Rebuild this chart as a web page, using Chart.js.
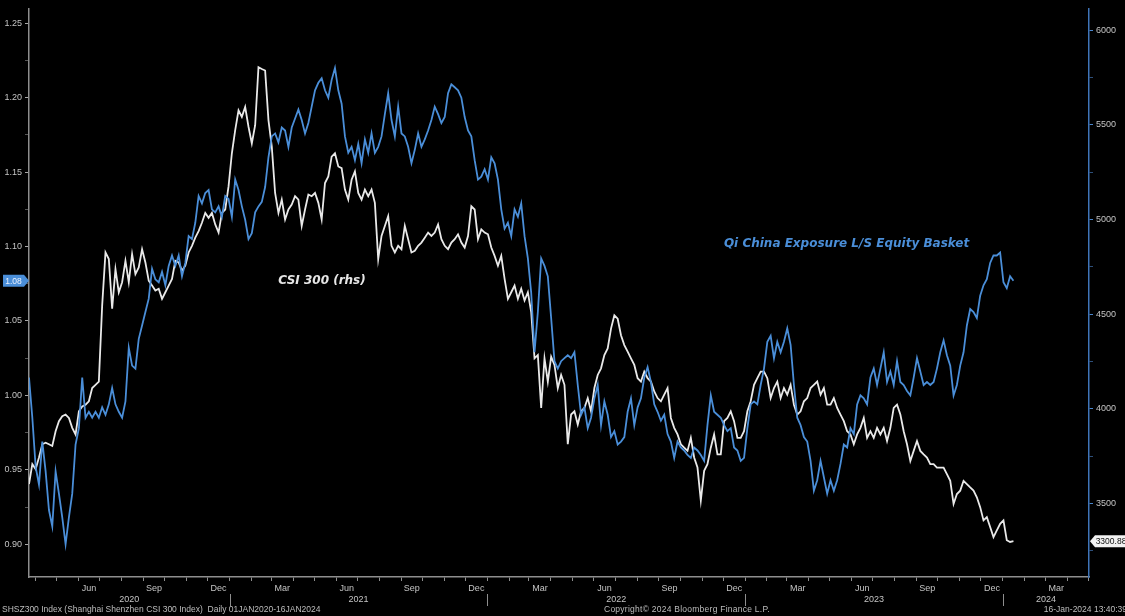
<!DOCTYPE html>
<html>
<head>
<meta charset="utf-8">
<script src="https://cdn.jsdelivr.net/npm/chart.js@4.4.1/dist/chart.umd.min.js"></script>
<style>
    html, body { margin: 0; padding: 0; background: #000; }
    #wrap { position: relative; width: 1125px; height: 616px; overflow: hidden; }
    #footer span { position: absolute; top: 604px; font: 8.5px "Liberation Sans", sans-serif; color: #bdbdbd; white-space: nowrap; }
</style>
</head>
<body>
<div id="wrap">
    <canvas id="chart" width="1125" height="616"></canvas>
    <div id="footer">
        <span style="left:2px">SHSZ300 Index (Shanghai Shenzhen CSI 300 Index)&nbsp;&nbsp;Daily 01JAN2020-16JAN2024</span>
        <span style="left:604px;letter-spacing:0.25px">Copyright© 2024 Bloomberg Finance L.P.</span>
        <span style="right:-2px">16-Jan-2024 13:40:39</span>
    </div>
</div>
<script>
// samples are evenly spaced between these two dates
const sampleStart = '2020-03-23';
const sampleEnd = '2024-01-16';
const axisStart = '2020-03-23';
const axisEnd = '2024-05-02';

// Qi China Exposure L/S Equity Basket (lhs)
const qiBasket = [
    1.012, 0.985, 0.952, 0.940, 0.969, 0.949, 0.923, 0.912, 0.949, 0.934,
    0.918, 0.900, 0.918, 0.934, 0.967, 0.978, 1.012, 0.985, 0.989, 0.985,
    0.989, 0.985, 0.992, 0.987, 0.994, 1.005, 0.994, 0.989, 0.985, 0.996,
    1.032, 1.020, 1.018, 1.038, 1.047, 1.056, 1.065, 1.085, 1.078, 1.076,
    1.083, 1.074, 1.087, 1.094, 1.087, 1.094, 1.080, 1.089, 1.107, 1.105,
    1.116, 1.134, 1.129, 1.136, 1.138, 1.125, 1.123, 1.127, 1.120,
    1.134, 1.132, 1.120, 1.145, 1.138, 1.127, 1.118, 1.105, 1.109, 1.123,
    1.127, 1.130, 1.140, 1.160, 1.174, 1.176, 1.170, 1.180, 1.178, 1.167,
    1.180, 1.186, 1.192, 1.185, 1.176, 1.183, 1.194, 1.205, 1.210, 1.213,
    1.205, 1.200, 1.212, 1.220, 1.205, 1.196, 1.174, 1.163, 1.167, 1.158,
    1.169, 1.156, 1.172, 1.163, 1.176, 1.163, 1.167, 1.174, 1.189, 1.203,
    1.185, 1.174, 1.194, 1.176, 1.174, 1.167, 1.156, 1.165, 1.176, 1.167,
    1.172, 1.178, 1.185, 1.194, 1.189, 1.183, 1.187, 1.203, 1.209, 1.207,
    1.205, 1.200, 1.187, 1.178, 1.174, 1.158, 1.145, 1.147, 1.152, 1.145,
    1.160, 1.156, 1.145, 1.125, 1.112, 1.116, 1.107, 1.125, 1.120, 1.129,
    1.107, 1.092, 1.069, 1.029, 1.056, 1.092, 1.087, 1.080, 1.052, 1.023,
    1.018, 1.023, 1.025, 1.027, 1.025, 1.029, 1.007, 0.987, 0.992, 0.978,
    0.985, 0.998, 1.007, 0.980, 0.996, 0.987, 0.972, 0.976, 0.967, 0.969,
    0.972, 0.989, 0.998, 0.980, 0.992, 0.998, 1.012, 1.019, 1.009, 0.994,
    0.989, 0.983, 0.987, 0.974, 0.969, 0.958, 0.969, 0.965, 0.963, 0.960,
    0.958, 0.965, 0.963, 0.960, 0.956, 0.980, 1.000, 0.989, 0.987, 0.985,
    0.980, 0.976, 0.978, 0.965, 0.963, 0.956, 0.958, 0.978, 0.994, 0.996,
    0.994, 1.007, 1.018, 1.036, 1.040, 1.025, 1.036, 1.029, 1.036, 1.045,
    1.034, 1.007, 0.985, 0.980, 0.972, 0.969, 0.956, 0.936, 0.943, 0.956,
    0.945, 0.934, 0.943, 0.936, 0.943, 0.954, 0.967, 0.965, 0.978, 0.974,
    0.994, 1.000, 0.998, 0.994, 1.012, 1.018, 1.007, 1.018, 1.029, 1.009,
    1.016, 1.007, 1.023, 1.009, 1.007, 1.003, 1.000, 1.012, 1.025, 1.016,
    1.007, 1.009, 1.007, 1.009, 1.018, 1.029, 1.037, 1.027, 1.020, 1.000,
    1.007, 1.020, 1.029, 1.047, 1.058, 1.056, 1.052, 1.067, 1.074, 1.078,
    1.089, 1.094, 1.094, 1.096, 1.076, 1.072, 1.080, 1.077
];

// CSI 300 (rhs)
const csi300 = [
    3603, 3708, 3682, 3743, 3813, 3821, 3813, 3804, 3882, 3935,
    3961, 3970, 3952, 3900, 3865, 3987, 4013, 4022, 4040, 4110,
    4127, 4144, 4546, 4826, 4791, 4529, 4738, 4616, 4669, 4782,
    4669, 4817, 4712, 4747, 4843, 4773, 4677, 4651, 4625, 4634,
    4581, 4616, 4651, 4686, 4782, 4773, 4730, 4756, 4826, 4861,
    4904, 4939, 4983, 5035, 5009, 5035, 4974, 4931, 5035,
    5053, 5175, 5350, 5472, 5577, 5542, 5594, 5490, 5402, 5498,
    5804, 5795, 5787, 5525, 5385, 5140, 5035, 5105, 5000, 5053,
    5079, 5123, 5105, 4966, 5053, 5132, 5123, 5140, 5088, 5000,
    5193, 5228, 5332, 5350, 5280, 5271, 5158, 5105, 5210, 5254,
    5140, 5105, 5158, 5123, 5158, 5088, 4791, 4913, 4966, 5018,
    4861, 4826, 4861, 4843, 4966, 4896, 4826, 4835, 4861, 4878,
    4904, 4931, 4913, 4931, 4974, 4896, 4861, 4843, 4878, 4896,
    4922, 4878, 4852, 4913, 5070, 5053, 4896, 4948, 4931, 4922,
    4852, 4808, 4756, 4808, 4686, 4581, 4616, 4651, 4581, 4634,
    4572, 4616, 4511, 4267, 4284, 4005, 4267, 4144, 4275, 4232,
    4110, 4179, 4127, 3813, 3970, 3987, 3917, 3987, 4005, 4057,
    3987, 4110, 4179, 4214, 4284, 4319, 4424, 4494, 4476, 4389,
    4337, 4302, 4267, 4232, 4162, 4144, 4197, 4162, 4144, 4092,
    4057, 4040, 4075, 4110, 3952, 3900, 3865, 3813, 3795, 3778,
    3847, 3743, 3690, 3516, 3673, 3708, 3795, 3865, 3760, 3760,
    3935, 3952, 3987, 3935, 3847, 3847, 3882, 3987, 4040, 4127,
    4162, 4197, 4197, 4162, 4057, 4110, 4144, 4057, 4110, 4075,
    4127, 4022, 3970, 3987, 4040, 4057, 4110, 4127, 4144, 4075,
    4110, 4022, 4022, 4057, 4005, 3970, 3935, 3882, 3865, 3813,
    3865, 3900, 3952, 3847, 3882, 3847, 3900, 3865, 3900, 3830,
    3900, 4005, 4022, 3970, 3882, 3813, 3725, 3778, 3830, 3778,
    3760, 3743, 3708, 3708, 3690, 3690, 3690, 3655, 3620, 3498,
    3550, 3568, 3620, 3603, 3585, 3568, 3533, 3481, 3411, 3428,
    3376, 3323, 3358, 3393, 3411, 3306, 3297, 3300.88
];

const leftTickLabels = ['0.90', '0.95', '1.00', '1.05', '1.10', '1.15', '1.20', '1.25'];
const rightTickLabels = ['3500', '4000', '4500', '5000', '5500', '6000'];
const quarterMonths = ['Jun', 'Sep', 'Dec', 'Mar', 'Jun', 'Sep', 'Dec', 'Mar', 'Jun', 'Sep', 'Dec', 'Mar', 'Jun', 'Sep', 'Dec', 'Mar'];
const yearLabels = ['2020', '2021', '2022', '2023', '2024'];

const BLUE = '#4a8ed8';
const WHITE = '#e9e9e9';
const GREY = '#8e8e8e';
const TEXT = '#c4c4c4';
const FONT = '"Liberation Sans", Arial, sans-serif';

const DAY = 864e5;
const base = Date.UTC(2020, 0, 1);
const dayOf = s => (Date.parse(s + 'T00:00:00Z') - base) / DAY;
const dayYM = (y, m, d) => (Date.UTC(y, m, d) - base) / DAY;

const xMin = dayOf(axisStart), xMax = dayOf(axisEnd);
const first = dayOf(sampleStart), last = dayOf(sampleEnd);
const step = (last - first) / (csi300.length - 1);
const xs = csi300.map((_, i) => first + i * step);

function buildXTicks() {
    const t = [];
    // month boundaries: tick marks only
    for (let y = 2020; y <= 2024; y++) {
        for (let m = 0; m < 12; m++) {
            const v = dayYM(y, m, 1);
            if (v >= xMin && v <= xMax) t.push({ value: v, mark: true, lines: ['', ''] });
        }
    }
    // quarter month names, centred in the month
    quarterMonths.forEach((lab, i) => {
        const mAbs = 5 + 3 * i;
        const y = 2020 + Math.floor(mAbs / 12), m = mAbs % 12;
        t.push({ value: (dayYM(y, m, 1) + dayYM(y, m + 1, 1)) / 2, lines: [lab, ''] });
    });
    // years, centred on the visible part of the year
    yearLabels.forEach(lab => {
        const y = Number(lab);
        const a = Math.max(dayYM(y, 0, 1), xMin), b = Math.min(dayYM(y + 1, 0, 1), xMax);
        t.push({ value: (a + b) / 2, lines: ['', lab] });
    });
    return t.sort((a, b) => a.value - b.value);
}

function buildYTicks(labels, lo, hi) {
    const vals = labels.map(Number);
    const half = (vals[1] - vals[0]) / 2;
    const t = labels.map(l => ({ value: Number(l), text: l }));
    vals.forEach(v => t.push({ value: v - half, text: '' }));
    return t.filter(k => k.value >= lo && k.value <= hi).sort((a, b) => a.value - b.value);
}

const overlay = {
    id: 'overlay',
    afterDraw(chart) {
        const { ctx, chartArea } = chart;
        const sx = chart.scales.x, yl = chart.scales.y, yr = chart.scales.y1;
        ctx.save();

        // year separators in the year row
        ctx.strokeStyle = GREY;
        ctx.lineWidth = 1;
        yearLabels.slice(1).forEach(lab => {
            const px = Math.round(sx.getPixelForValue(dayYM(Number(lab), 0, 1))) + 0.5;
            ctx.beginPath();
            ctx.moveTo(px, chartArea.bottom + 17);
            ctx.lineTo(px, chartArea.bottom + 29);
            ctx.stroke();
        });

        // series annotations
        ctx.font = 'italic bold 12px "DejaVu Sans", sans-serif';
        ctx.textBaseline = 'middle';
        ctx.textAlign = 'left';
        ctx.fillStyle = '#e6e6e6';
        ctx.fillText('CSI 300 (rhs)', sx.getPixelForValue(435), yr.getPixelForValue(4674));
        ctx.fillStyle = BLUE;
        ctx.fillText('Qi China Exposure L/S Equity Basket', sx.getPixelForValue(1066), yl.getPixelForValue(1.102));

        // last value tags
        ctx.font = '8.5px ' + FONT;
        ctx.textAlign = 'center';
        const lq = qiBasket[qiBasket.length - 1];
        let py = yl.getPixelForValue(lq);
        const ax = chartArea.left;
        ctx.fillStyle = BLUE;
        ctx.beginPath();
        ctx.moveTo(3, py - 6); ctx.lineTo(ax - 5, py - 6); ctx.lineTo(ax, py);
        ctx.lineTo(ax - 5, py + 6); ctx.lineTo(3, py + 6); ctx.closePath();
        ctx.fill();
        ctx.fillStyle = '#eaf2ff';
        ctx.fillText(lq.toFixed(2), (3 + ax - 5) / 2, py + 0.5);

        const lc = csi300[csi300.length - 1];
        py = yr.getPixelForValue(lc);
        const rx = chartArea.right;
        ctx.fillStyle = '#f2f2f2';
        ctx.beginPath();
        ctx.moveTo(rx + 1, py); ctx.lineTo(rx + 6, py - 6); ctx.lineTo(1125, py - 6);
        ctx.lineTo(1125, py + 6); ctx.lineTo(rx + 6, py + 6); ctx.closePath();
        ctx.fill();
        ctx.fillStyle = '#111';
        ctx.fillText(lc.toFixed(2), rx + 22, py + 0.5);
        ctx.restore();
    }
};

new Chart(document.getElementById('chart'), {
    type: 'line',
    data: {
        datasets: [
            {
                label: 'Qi China Exposure L/S Equity Basket',
                data: xs.map((x, i) => ({ x, y: qiBasket[i] })),
                yAxisID: 'y',
                borderColor: BLUE,
                borderWidth: 1.8,
                pointRadius: 0,
                tension: 0
            },
            {
                label: 'CSI 300',
                data: xs.map((x, i) => ({ x, y: csi300[i] })),
                yAxisID: 'y1',
                borderColor: WHITE,
                borderWidth: 1.8,
                pointRadius: 0,
                tension: 0
            }
        ]
    },
    options: {
        responsive: false,
        animation: false,
        layout: { padding: { top: 4, bottom: 12, left: 0, right: 0 } },
        plugins: { legend: { display: false }, tooltip: { enabled: false } },
        scales: {
            x: {
                type: 'linear',
                position: 'bottom',
                min: xMin,
                max: xMax,
                bounds: 'data',
                afterBuildTicks: s => { s.ticks = buildXTicks(); },
                afterFit: s => { s.height = 27; },
                ticks: {
                    autoSkip: false,
                    maxRotation: 0,
                    minRotation: 0,
                    padding: 2,
                    color: TEXT,
                    font: { family: FONT, size: 9, lineHeight: 1.25 },
                    callback: (v, i, ticks) => ticks[i].lines
                },
                grid: {
                    drawOnChartArea: false,
                    drawTicks: true,
                    tickLength: 4,
                    tickColor: c => (c.tick && c.tick.mark ? GREY : 'rgba(0,0,0,0)')
                },
                border: { color: GREY, width: 1.5 }
            },
            y: {
                type: 'linear',
                position: 'left',
                min: 0.878,
                max: 1.26,
                bounds: 'data',
                afterBuildTicks: s => { s.ticks = buildYTicks(leftTickLabels, 0.878, 1.26); },
                afterFit: s => { s.width = 29; },
                ticks: {
                    autoSkip: false,
                    padding: 3,
                    color: TEXT,
                    font: { family: FONT, size: 9 },
                    callback: (v, i, ticks) => ticks[i].text
                },
                grid: {
                    drawOnChartArea: false,
                    tickLength: 4,
                    tickColor: c => (c.tick && c.tick.text ? '#a8a8a8' : '#555')
                },
                border: { color: GREY, width: 1.5 }
            },
            y1: {
                type: 'linear',
                position: 'right',
                min: 3112,
                max: 6115,
                bounds: 'data',
                afterBuildTicks: s => { s.ticks = buildYTicks(rightTickLabels, 3112, 6115); },
                afterFit: s => { s.width = 36; },
                ticks: {
                    autoSkip: false,
                    padding: 3,
                    color: TEXT,
                    font: { family: FONT, size: 9 },
                    callback: (v, i, ticks) => ticks[i].text
                },
                grid: {
                    drawOnChartArea: false,
                    tickLength: 4,
                    tickColor: c => (c.tick && c.tick.text ? '#4a86cc' : '#2d4f7a')
                },
                border: { color: '#3f74b8', width: 1.5 }
            }
        }
    },
    plugins: [overlay]
});
</script>
</body>
</html>
